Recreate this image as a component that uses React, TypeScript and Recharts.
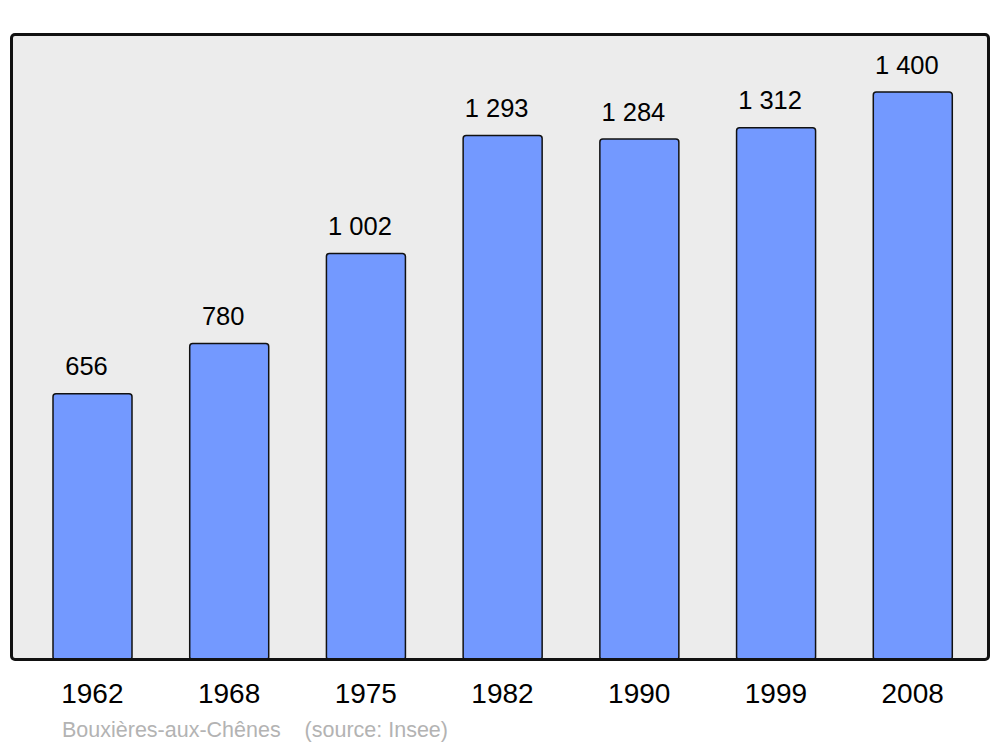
import React from 'react';
import { BarChart, Bar, XAxis, YAxis, CartesianGrid, LabelList } from 'recharts';

const years = ['1962', '1968', '1975', '1982', '1990', '1999', '2008'];
const population = [656, 780, 1002, 1293, 1284, 1312, 1400];

const data = years.map((year, i) => ({ year, population: population[i] }));

const fmt = (v: number) => String(v).replace(/\B(?=(\d{3})+(?!\d))/g, ' ');

function ValueLabel(props: any) {
  const { x, y, width, value } = props;
  return (
    <text x={x + width / 2 - 6} y={y - 18.5} textAnchor="middle" fill="#000" fontSize={25.5}>
      {fmt(value)}
    </text>
  );
}

export default function App() {
  return (
    <div style={{ position: 'absolute', left: 0, top: 0, width: 1000, height: 747, fontFamily: '"Liberation Sans", Arial, sans-serif' }}>
      <BarChart width={1000} height={747} data={data} margin={{ top: 34, right: 11, bottom: 57, left: 11 }}>
        <CartesianGrid fill="#ececec" stroke="none" vertical={false} horizontal={false} />
        <XAxis
          dataKey="year"
          height={30}
          padding={{ left: 13, right: 8 }}
          axisLine={false}
          tickLine={false}
          tickSize={0}
          tickMargin={23}
          tick={{ fill: '#000', fontSize: 28 }}
          interval={0}
        />
        <YAxis hide domain={[0, 1543]} />
        <Bar dataKey="population" fill="#7399ff" stroke="#111" strokeWidth={1.5} barSize={79} radius={3} isAnimationActive={false}>
          <LabelList dataKey="population" content={<ValueLabel />} />
        </Bar>
      </BarChart>
      <div
        style={{
          position: 'absolute', left: 10, top: 33, width: 980, height: 628,
          boxSizing: 'border-box', border: '3px solid #111', borderRadius: 5, pointerEvents: 'none',
        }}
      />
      <div style={{ position: 'absolute', left: 62, top: 718, fontSize: 21.5, color: '#b3b3b3', whiteSpace: 'pre' }}>
        {'Bouxières-aux-Chênes    (source: Insee)'}
      </div>
    </div>
  );
}
